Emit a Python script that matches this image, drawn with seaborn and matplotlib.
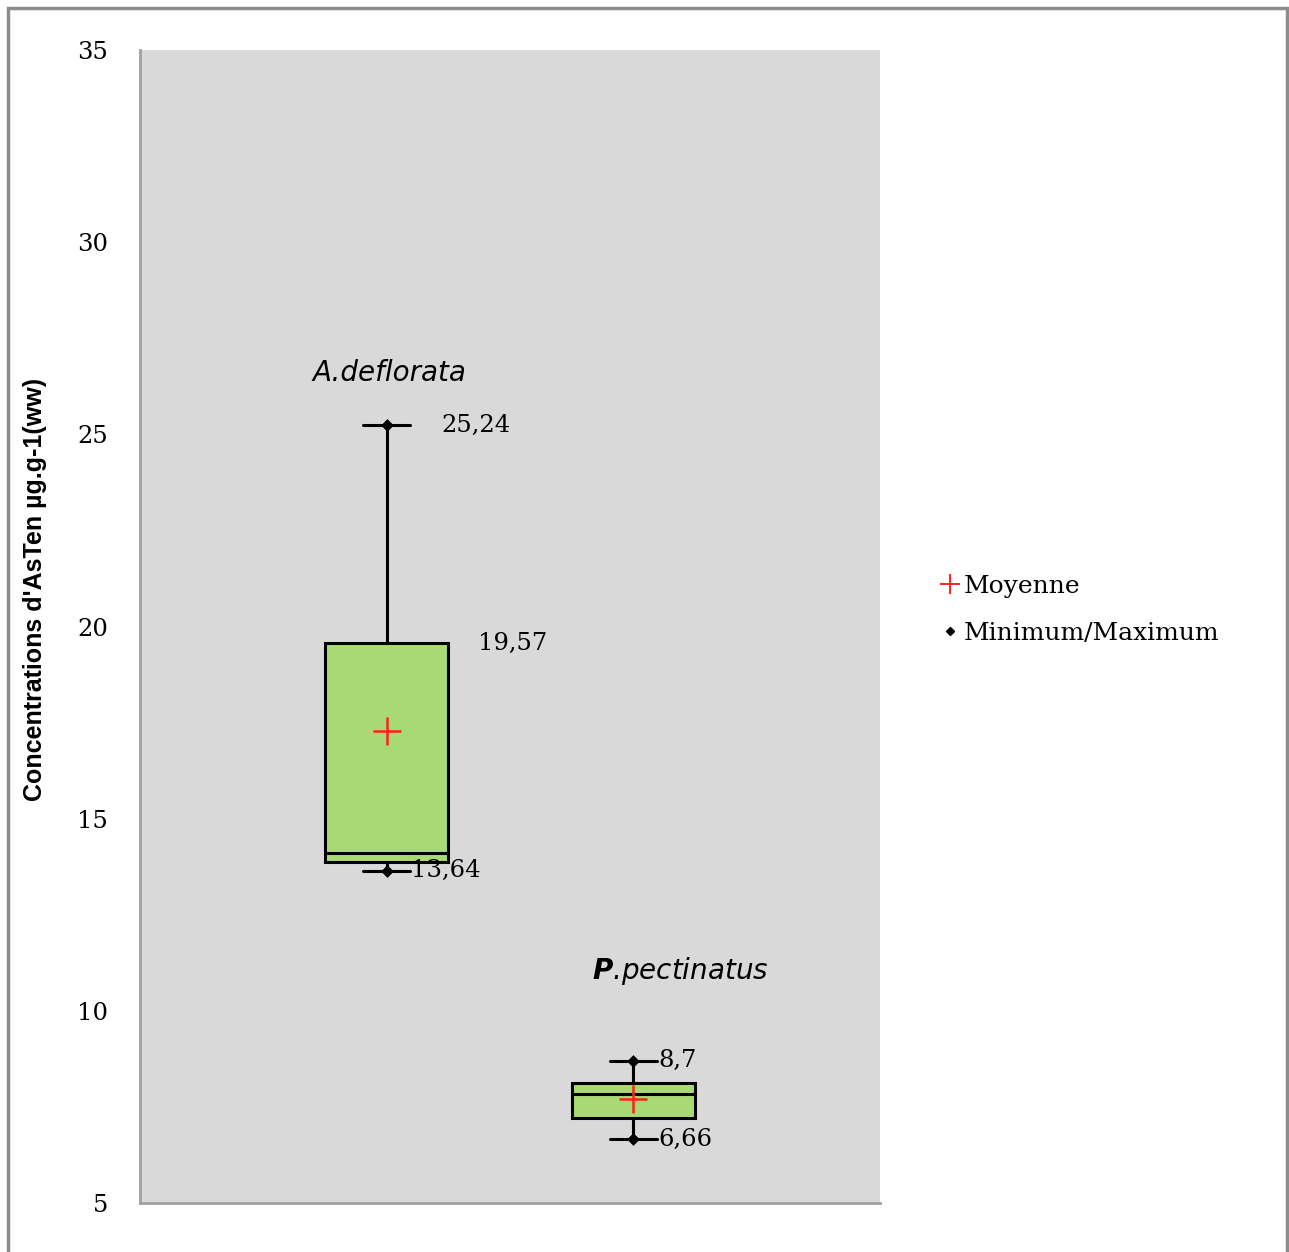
import numpy as np
import pandas as pd
import matplotlib
matplotlib.use("Agg")
import matplotlib.pyplot as plt
from matplotlib.lines import Line2D
from matplotlib.patches import Rectangle
import seaborn as sns

# ---- data ----
species = ["A.deflorata", "P.pectinatus"]
minimums = [13.64, 6.66]
q1_values = [13.87, 7.21]
medians = [14.10, 7.83]
q3_values = [19.57, 8.12]
maximums = [25.24, 8.70]
means = [17.28, 7.70]
yticks = [5, 10, 15, 20, 25, 30, 35]
ylabel = "Concentrations d'AsTen µg.g-1(ww)"
legend_labels = ["Moyenne", "Minimum/Maximum"]

# five-number summary per species -> long table for seaborn
rows = []
for i, sp in enumerate(species):
    for v in (minimums[i], q1_values[i], medians[i], q3_values[i], maximums[i]):
        rows.append({"species": sp, "value": v})
df = pd.DataFrame(rows)

sns.set_style("white")
SERIF = ["DejaVu Serif", "Liberation Serif"]
SANS = ["DejaVu Sans", "Liberation Sans"]
plt.rcParams["font.family"] = SERIF
plt.rcParams["text.color"] = "black"
plt.rcParams["axes.labelcolor"] = "black"
plt.rcParams["ytick.color"] = "black"
plt.rcParams["mathtext.fontset"] = "dejavusans"

fig = plt.figure(figsize=(12.89, 12.52), dpi=100)
ax = fig.add_axes([140 / 1289, 49 / 1252, 740 / 1289, 1153 / 1252])
ax.set_facecolor("#d9d9d9")

sns.boxplot(data=df, x="species", y="value", order=species, width=0.5,
            whis=(0, 100), color="#a8da74", saturation=1, linecolor="black",
            linewidth=2.2, showfliers=False, capwidths=0.19, ax=ax)

pos = np.arange(len(species))
sns.scatterplot(x=np.concatenate([pos, pos]), y=minimums + maximums,
                marker="D", color="black", s=36, edgecolor="black",
                zorder=6, ax=ax, legend=False)
sns.scatterplot(x=pos, y=means, marker="+", color="#ff2020", s=420,
                linewidth=1.8, zorder=7, ax=ax, legend=False)

def fmt(v):
    return f"{v:g}".replace(".", ",")

tkw = dict(fontsize=17.5, va="center", ha="left", color="black")
ax.text(pos[0] + 0.22, maximums[0], fmt(maximums[0]), **tkw)
ax.text(pos[0] + 0.37, q3_values[0], fmt(q3_values[0]), **tkw)
ax.text(pos[0] + 0.10, minimums[0], fmt(minimums[0]), **tkw)
ax.text(pos[1] + 0.10, maximums[1], fmt(maximums[1]), **tkw)
ax.text(pos[1] + 0.10, minimums[1], fmt(minimums[1]), **tkw)

skw = dict(fontsize=20, style="italic", va="center", family=SANS)
ax.text(pos[0] + 0.01, 26.6, species[0], ha="center", **skw)
p_label = r"$\mathbfit{" + species[1][0] + "}$" + species[1][1:]
ax.text(pos[1] + 0.19, 11.03, p_label, ha="center", **skw)

ax.set_xlim(-1, 2)
ax.set_ylim(5, 35)
ax.set_yticks(yticks)
ax.set_yticklabels([str(t) for t in yticks], fontsize=17.5)
ax.set_xticks([])
ax.set_xlabel("")
ax.tick_params(axis="y", length=0, pad=23)
for s in ("top", "right"):
    ax.spines[s].set_visible(False)
for s in ("left", "bottom"):
    ax.spines[s].set_color("#a0a0a0")
    ax.spines[s].set_linewidth(2)

ax.set_ylabel(ylabel, fontsize=18, weight="bold",
              family=["Liberation Sans", "DejaVu Sans"])
ax.yaxis.set_label_coords(-0.126, 0.532)

handles = [
    Line2D([], [], marker="+", color="#ff2020", linestyle="none",
           markersize=15, markeredgewidth=1.4),
    Line2D([], [], marker="D", color="black", linestyle="none",
           markersize=4.5),
]
fig.legend(handles, legend_labels, loc="center left",
           bbox_to_anchor=(929 / 1289, 0.513), frameon=False, fontsize=18,
           handlelength=0.7, handletextpad=0.2, labelspacing=0.95,
           borderpad=0)

fig.patches.append(Rectangle((8 / 1289, -0.02), 1279 / 1289, 0.02 + 1244 / 1252,
                             transform=fig.transFigure, fill=False,
                             edgecolor="#8c8c8c", linewidth=2.5))

fig.savefig("out.png", dpi=100)
